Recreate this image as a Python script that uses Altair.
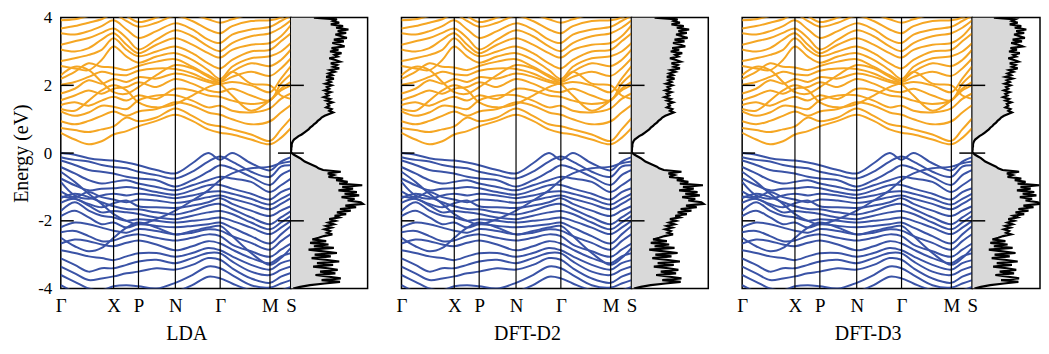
import altair as alt
import pandas as pd

FONT = "Liberation Serif"
ORANGE = "#F5A623"
BLUE = "#3A53A6"
GREY = "#d9d9d9"

# k-path sample positions (path length units) and high-symmetry points
K = [0, 14, 28, 41, 53, 66, 78, 96, 115, 132, 148, 160, 172, 191, 210, 221, 231]
SYM_K = [0, 53, 78, 115, 160, 210, 231]
SYM_LABELS = ["Γ", "X", "P", "N", "Γ", "M", "S"]
PANEL_TITLES = ["LDA", "DFT-D2", "DFT-D3"]
Y_TICKS = [-4, -2, 0, 2, 4]
INNER_TICKS = [-2, 0, 2]

# conduction bands (eV) at the K positions
COND = [
    [0.60, 0.40, 0.26, 0.35, 0.55, 0.65, 0.79, 0.95, 1.13, 0.95, 0.70, 0.60, 0.55, 0.40, 0.26, 0.45, 0.74],
    [0.74, 0.68, 0.62, 0.70, 0.79, 1.05, 0.94, 1.05, 1.32, 1.10, 0.85, 0.79, 0.70, 0.55, 0.36, 0.70, 1.03],
    [0.94, 0.85, 0.95, 1.10, 1.23, 1.10, 1.23, 1.30, 1.50, 1.40, 1.20, 1.13, 1.00, 0.85, 0.94, 1.20, 1.42],
    [1.23, 1.10, 1.20, 1.40, 1.37, 1.30, 1.56, 1.70, 1.71, 1.55, 1.35, 1.40, 1.25, 1.20, 1.32, 1.60, 1.76],
    [1.42, 1.50, 1.40, 1.55, 1.66, 1.55, 1.71, 1.60, 1.90, 1.85, 1.70, 1.66, 1.55, 1.45, 1.56, 1.85, 2.00],
    [1.56, 1.70, 1.85, 1.75, 1.90, 1.95, 2.09, 1.95, 2.19, 2.05, 1.85, 1.80, 1.90, 1.70, 1.56, 2.05, 2.33],
    [1.76, 1.90, 2.15, 2.05, 2.19, 2.10, 2.24, 2.20, 2.35, 2.25, 2.10, 2.04, 2.10, 2.00, 1.80, 2.20, 2.57],
    [2.02, 2.10, 2.25, 2.40, 2.33, 2.30, 2.43, 2.50, 2.48, 2.35, 2.15, 2.09, 2.25, 2.40, 2.28, 2.50, 2.80],
    [2.19, 2.40, 2.65, 2.55, 2.53, 2.45, 2.57, 2.70, 2.77, 2.55, 2.30, 2.14, 2.40, 2.65, 2.57, 2.75, 3.06],
    [2.57, 2.50, 2.45, 2.75, 3.15, 2.85, 2.67, 2.85, 2.95, 2.75, 2.45, 2.19, 2.55, 2.80, 2.86, 3.00, 3.25],
    [2.72, 2.80, 2.90, 3.05, 3.39, 3.05, 2.86, 3.00, 3.15, 2.95, 2.65, 2.50, 2.75, 3.00, 3.05, 3.30, 3.54],
    [3.06, 3.00, 3.10, 3.35, 3.54, 3.20, 2.95, 3.20, 3.39, 3.20, 2.95, 2.82, 3.05, 3.20, 3.25, 3.45, 3.78],
    [3.20, 3.30, 3.40, 3.55, 3.68, 3.40, 3.06, 3.35, 3.63, 3.45, 3.15, 3.01, 3.25, 3.45, 3.54, 3.70, 3.92],
    [3.54, 3.50, 3.60, 3.75, 3.92, 3.65, 3.40, 3.60, 3.83, 3.65, 3.35, 3.25, 3.50, 3.65, 3.73, 3.90, 4.05],
    [3.68, 3.75, 3.85, 3.95, 4.10, 3.90, 3.73, 3.85, 4.05, 3.90, 3.65, 3.54, 3.75, 3.90, 3.92, 4.00, 4.15],
    [3.92, 3.95, 4.05, 4.15, 4.25, 4.05, 3.87, 4.00, 4.20, 4.10, 3.95, 3.85, 3.95, 4.10, 4.10, 4.15, 4.30],
    [4.15, 4.20, 4.25, 4.30, 4.40, 4.25, 4.10, 4.20, 4.35, 4.25, 4.15, 4.10, 4.20, 4.25, 4.25, 4.30, 4.45],
    [2.30, 2.55, 2.45, 2.10, 1.80, 1.75, 1.95, 2.30, 2.60, 2.50, 2.25, 2.04, 1.70, 1.25, 1.56, 1.90, 2.10],
    [1.30, 1.25, 1.55, 1.85, 2.00, 1.85, 1.50, 1.35, 1.45, 1.70, 1.95, 2.09, 2.40, 2.05, 2.00, 1.70, 1.60],
]

# valence bands (eV) at the K positions
VAL = [
    [0.00, -0.05, -0.15, -0.20, -0.22, -0.28, -0.36, -0.50, -0.60, -0.30, 0.00, -0.20, 0.00, -0.30, -0.51, -0.25, -0.12],
    [-0.12, -0.20, -0.25, -0.35, -0.41, -0.45, -0.55, -0.65, -0.75, -0.55, -0.25, -0.10, -0.25, -0.55, -0.70, -0.40, -0.36],
    [-0.22, -0.35, -0.50, -0.55, -0.60, -0.70, -0.75, -0.80, -0.99, -0.80, -0.55, -0.36, -0.45, -0.70, -0.94, -0.65, -0.50],
    [-0.41, -0.60, -0.80, -0.90, -0.85, -0.80, -0.90, -1.00, -1.10, -0.95, -0.80, -0.70, -0.75, -0.85, -1.15, -0.95, -0.75],
    [-0.75, -0.95, -1.10, -1.05, -1.04, -1.00, -1.04, -1.15, -1.23, -1.10, -0.95, -0.94, -1.05, -1.20, -1.37, -1.15, -1.04],
    [-0.85, -1.25, -1.35, -1.25, -1.20, -1.25, -1.20, -1.25, -1.33, -1.25, -1.15, -1.13, -1.20, -1.35, -1.52, -1.35, -1.20],
    [-1.13, -1.30, -1.15, -1.30, -1.37, -1.45, -1.37, -1.40, -1.47, -1.40, -1.30, -1.25, -1.35, -1.50, -1.66, -1.50, -1.33],
    [-1.28, -1.35, -1.50, -1.60, -1.48, -1.40, -1.57, -1.60, -1.62, -1.55, -1.45, -1.33, -1.50, -1.70, -1.86, -1.70, -1.57],
    [-1.33, -1.20, -1.30, -1.45, -1.57, -1.65, -1.66, -1.75, -1.81, -1.70, -1.55, -1.50, -1.65, -1.90, -2.10, -1.90, -1.71],
    [-1.47, -1.35, -1.55, -1.75, -1.71, -1.75, -1.80, -1.90, -1.95, -1.85, -1.75, -1.71, -1.80, -2.05, -2.25, -2.05, -1.85],
    [-1.71, -1.45, -1.70, -1.85, -1.90, -2.00, -1.95, -2.00, -2.05, -2.00, -1.95, -1.90, -2.00, -2.20, -2.39, -2.20, -2.00],
    [-1.86, -1.70, -1.90, -2.10, -2.05, -2.20, -2.10, -2.15, -2.19, -2.15, -2.10, -2.05, -2.20, -2.45, -2.67, -2.40, -2.15],
    [-2.19, -2.05, -2.10, -2.20, -2.29, -2.35, -2.24, -2.30, -2.40, -2.35, -2.25, -2.29, -2.45, -2.65, -2.85, -2.60, -2.39],
    [-2.34, -2.30, -2.45, -2.60, -2.58, -2.45, -2.40, -2.50, -2.58, -2.50, -2.40, -2.45, -2.70, -2.90, -3.06, -2.85, -2.67],
    [-2.67, -2.55, -2.60, -2.70, -2.75, -2.65, -2.58, -2.70, -2.87, -2.75, -2.60, -2.67, -2.85, -3.10, -3.25, -3.05, -2.96],
    [-2.87, -2.95, -3.05, -3.10, -3.16, -3.05, -2.96, -2.95, -3.06, -2.95, -2.80, -2.87, -3.05, -3.30, -3.44, -3.25, -3.16],
    [-3.11, -3.30, -3.50, -3.40, -3.40, -3.30, -3.20, -3.15, -3.25, -3.10, -2.95, -2.96, -3.20, -3.50, -3.60, -3.45, -3.35],
    [-3.35, -3.55, -3.75, -3.70, -3.64, -3.55, -3.50, -3.40, -3.44, -3.30, -3.10, -3.15, -3.40, -3.70, -3.83, -3.65, -3.54],
    [-3.60, -3.80, -4.00, -4.05, -3.93, -3.90, -3.93, -4.00, -3.83, -3.60, -3.35, -3.40, -3.60, -3.90, -3.97, -3.85, -3.75],
    [-3.90, -4.10, -4.20, -4.25, -4.15, -4.15, -4.20, -4.25, -4.10, -3.90, -3.65, -3.70, -3.85, -4.05, -4.10, -4.05, -3.95],
    [-0.55, -0.85, -1.20, -1.50, -1.80, -2.00, -2.10, -1.95, -1.70, -1.40, -1.10, -0.80, -0.60, -0.45, -0.40, -0.30, -0.25],
    [-2.50, -2.75, -2.90, -2.80, -2.50, -2.20, -2.05, -2.20, -2.40, -2.30, -2.20, -2.15, -2.45, -2.95, -3.30, -3.10, -2.80],
]

# density of states: energy grid (eV) and DOS (arb. units)
DOS_E = [
    4.00, 3.95, 3.90, 3.85, 3.80, 3.75, 3.70, 3.65, 3.60, 3.55,
    3.50, 3.45, 3.40, 3.35, 3.30, 3.25, 3.20, 3.15, 3.10, 3.05,
    3.00, 2.95, 2.90, 2.85, 2.80, 2.75, 2.70, 2.65, 2.60, 2.55,
    2.50, 2.45, 2.40, 2.35, 2.30, 2.25, 2.20, 2.15, 2.10, 2.05,
    2.00, 1.95, 1.90, 1.85, 1.80, 1.75, 1.70, 1.65, 1.60, 1.55,
    1.50, 1.45, 1.40, 1.35, 1.30, 1.25, 1.20, 1.15, 1.10, 1.05,
    1.00, 0.95, 0.90, 0.85, 0.80, 0.75, 0.70, 0.65, 0.60, 0.55,
    0.50, 0.45, 0.40, 0.35, 0.30, 0.25, 0.20, 0.15, 0.10, 0.05,
    0.00, -0.05, -0.10, -0.15, -0.20, -0.25, -0.30, -0.35, -0.40, -0.45,
    -0.50, -0.55, -0.60, -0.65, -0.70, -0.75, -0.80, -0.85, -0.90, -0.95,
    -1.00, -1.05, -1.10, -1.15, -1.20, -1.25, -1.30, -1.35, -1.40, -1.45,
    -1.50, -1.55, -1.60, -1.65, -1.70, -1.75, -1.80, -1.85, -1.90, -1.95,
    -2.00, -2.05, -2.10, -2.15, -2.20, -2.25, -2.30, -2.35, -2.40, -2.45,
    -2.50, -2.55, -2.60, -2.65, -2.70, -2.75, -2.80, -2.85, -2.90, -2.95,
    -3.00, -3.05, -3.10, -3.15, -3.20, -3.25, -3.30, -3.35, -3.40, -3.45,
    -3.50, -3.55, -3.60, -3.65, -3.70, -3.75, -3.80, -3.85, -3.90, -3.95,
    -4.00,
]
DOS_V = [
    3.0, 6.0, 5.5, 6.3, 5.2, 6.8, 5.9, 7.5, 6.1, 7.2,
    5.8, 6.6, 7.3, 5.6, 6.9, 5.4, 6.4, 7.0, 5.3, 6.2,
    5.1, 6.6, 5.7, 6.1, 5.0, 5.8, 6.4, 5.2, 6.0, 5.5,
    6.3, 5.1, 5.7, 4.9, 5.4, 4.6, 5.6, 4.8, 5.2, 4.5,
    5.3, 4.7, 5.0, 4.4, 5.2, 4.6, 4.9, 4.3, 5.1, 4.6,
    5.4, 4.8, 5.0, 4.6, 5.3, 5.0, 5.5, 4.9, 4.4, 4.0,
    3.8, 3.5, 3.3, 3.0, 2.8, 2.5, 2.3, 2.0, 1.7, 1.4,
    1.0, 0.7, 0.4, 0.25, 0.15, 0.1, 0.1, 0.05, 0.05, 0.0,
    0.1, 0.4, 0.8, 1.2, 1.5, 1.8, 2.3, 2.8, 3.3, 3.6,
    4.2, 6.5, 4.8, 5.6, 4.9, 6.8, 5.9, 7.4, 6.3, 9.3,
    6.7, 8.1, 6.2, 8.6, 7.0, 8.9, 6.6, 8.3, 7.4, 9.1,
    9.4, 7.1, 8.5, 6.4, 7.8, 6.0, 7.2, 5.7, 6.3, 5.0,
    5.8, 4.9, 5.6, 4.6, 5.3, 4.4, 5.1, 4.7, 5.4, 4.3,
    3.6, 2.8, 4.6, 2.5, 4.9, 3.0, 5.6, 2.3, 4.2, 6.0,
    3.1, 5.2, 2.7, 4.5, 6.3, 3.4, 5.5, 2.9, 4.8, 6.1,
    3.8, 5.8, 3.2, 5.0, 6.5, 4.0, 6.4, 4.4, 2.5, 1.2,
    0.3,
]
assert len(DOS_E) == len(DOS_V)

# layout sizes
BAND_W = 231
DOS_WIDTHS = [77, 77, 68]
DOS_MAX = [10, 10, 9.4]
GAP = 34
H = 272
TITLE_X = 126

rows = []
for i, b in enumerate(COND):
    for k, e in zip(K, b):
        rows.append({"k": k, "E": e, "band": f"c{i}", "kind": "cond"})
for i, b in enumerate(VAL):
    for k, e in zip(K, b):
        rows.append({"k": k, "E": e, "band": f"v{i}", "kind": "val"})
band_df = pd.DataFrame(rows)
sym_df = pd.DataFrame({"k": SYM_K[1:-1]})
tick_df = pd.DataFrame({"E": INNER_TICKS})
dos_df = pd.DataFrame({"E": DOS_E, "dos": DOS_V})

label_expr = ""
for kk, lab in zip(SYM_K, SYM_LABELS):
    label_expr += f"datum.value == {kk} ? '{lab}' : "
label_expr += "''"

xs = alt.Scale(domain=[0, 231], nice=False, zero=False)
ys = alt.Scale(domain=[-4, 4], nice=False, zero=False)


def band_panel(title, first):
    x_axis = alt.Axis(values=SYM_K, labelExpr=label_expr, ticks=False, domain=False, grid=False,
                      labelFont=FONT, labelFontSize=19, labelColor="black", labelPadding=8,
                      labelFlush=False, labelOverlap=False,
                      title=title, titleFont=FONT, titleFontSize=20, titleFontWeight="normal",
                      titleColor="black", titlePadding=8, titleX=TITLE_X, titleAlign="center")
    if first:
        y_axis = alt.Axis(values=Y_TICKS, labelExpr="'' + datum.value", ticks=False, domain=False,
                          grid=False, labelFont=FONT, labelFontSize=17, labelColor="black",
                          labelPadding=9, labelFlush=False,
                          title="Energy (eV)", titleFont=FONT, titleFontSize=20,
                          titleFontWeight="normal", titleColor="black", titlePadding=6)
    else:
        y_axis = None
    ych = alt.Y("E:Q", scale=ys, axis=y_axis)
    xch = alt.X("k:Q", scale=xs, axis=x_axis)
    lines = alt.Chart(band_df).mark_line(clip=True, strokeWidth=2, interpolate="catmull-rom").encode(
        x=xch,
        y=ych,
        color=alt.Color("kind:N", scale=alt.Scale(domain=["cond", "val"], range=[ORANGE, BLUE]), legend=None),
        detail="band:N",
    )
    vlines = alt.Chart(sym_df).mark_rule(color="black", strokeWidth=1.2).encode(x=xch)
    lticks = alt.Chart(tick_df).mark_rule(color="black", strokeWidth=1.5).encode(
        y=ych, x=alt.value(0), x2=alt.value(13)
    )
    rticks = alt.Chart(tick_df).mark_rule(color="black", strokeWidth=1.5).encode(
        y=ych, x=alt.value(BAND_W - 13), x2=alt.value(BAND_W)
    )
    return alt.layer(lines, vlines, lticks, rticks).properties(width=BAND_W, height=H)


def dos_panel(w, dmax):
    ds = alt.Scale(domain=[0, dmax], nice=False, zero=True)
    area = alt.Chart(dos_df).mark_area(orient="horizontal", color=GREY, clip=True).encode(
        x=alt.X("dos:Q", scale=ds, axis=None),
        y=alt.Y("E:Q", scale=ys, axis=None),
    )
    line = alt.Chart(dos_df).mark_line(color="black", strokeWidth=2.2, clip=True).encode(
        x=alt.X("dos:Q", scale=ds, axis=None),
        y=alt.Y("E:Q", scale=ys, axis=None),
        order=alt.Order("E:Q"),
    )
    ticks = alt.Chart(tick_df).mark_rule(color="black", strokeWidth=1.5).encode(
        y=alt.Y("E:Q", scale=ys, axis=None), x=alt.value(0), x2=alt.value(13)
    )
    return alt.layer(area, line, ticks).properties(width=w, height=H)


def spacer():
    return alt.Chart(tick_df).mark_rule(opacity=0).encode(
        y=alt.Y("E:Q", scale=ys, axis=None)
    ).properties(width=GAP, height=H, view=alt.ViewBackground(strokeOpacity=0))


items = []
for i, t in enumerate(PANEL_TITLES):
    if i > 0:
        items.append(spacer())
    items.append(band_panel(t, i == 0))
    items.append(dos_panel(DOS_WIDTHS[i], DOS_MAX[i]))

chart = (
    alt.hconcat(*items, spacing=0, bounds="flush")
    .properties(padding={"left": 3, "top": -1, "right": 0, "bottom": 0})
    .configure_view(stroke="black", strokeWidth=1.5)
    .configure_axis(grid=False)
)

chart.save("out.html", embed_options={"renderer": "svg", "actions": False})
